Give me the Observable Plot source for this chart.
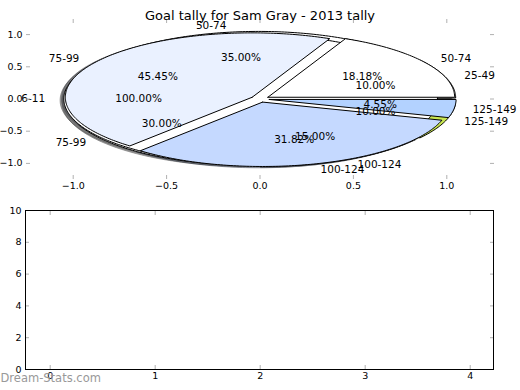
<!DOCTYPE html>
<html>
<head>
<meta charset="utf-8">
<script src="https://cdn.jsdelivr.net/npm/d3@7"></script>
<script src="https://cdn.jsdelivr.net/npm/@observablehq/plot@0.6"></script>
<style>
  html, body { margin: 0; padding: 0; background: white; }
  #chart svg { display: block; }
</style>
</head>
<body>
<div id="chart"></div>
<script>
// ---- data ----
const title = "Goal tally for Sam Gray - 2013 tally";
const watermark = "Dream-Stats.com";

const categoriesB = ["25-49", "50-74", "75-99", "100-124", "125-149"];
const valuesB = [2, 7, 6, 3, 2];
const colorsB = ["#ffffff", "#ffffff", "#ffffff", "#ffffff", "#c8e650"];

const categoriesC = ["6-11"];
const valuesC = [1];
const colorsC = ["#ffffff"];

const categoriesA = ["50-74", "75-99", "100-124", "125-149"];
const valuesA = [4, 10, 7, 1];
const colorsA = ["#ffffff", "#eaf1ff", "#c5d9ff", "#b3d2ff"];

const pieTicks = [-1.0, -0.5, 0.0, 0.5, 1.0];
const barXTicks = [0, 1, 2, 3, 4];
const barYTicks = [0, 2, 4, 6, 8, 10];

// ---- pie geometry (matplotlib-style: start at 0°, counter-clockwise) ----
const explode = 0.05, labelDist = 1.1, pctDist = 0.6, shadowOff = -0.02;

function buildPie(cats, vals, colors, pid) {
  const total = d3.sum(vals);
  const wedges = [], shadows = [], labels = [], pcts = [];
  let cum = 0;
  vals.forEach((v, i) => {
    const t1 = 360 * cum / total; cum += v; const t2 = 360 * cum / total;
    const tm = (t1 + t2) / 2 * Math.PI / 180;
    const cx = explode * Math.cos(tm), cy = explode * Math.sin(tm);
    const full = (t2 - t1) >= 359.999;
    const pts = [];
    if (!full) pts.push([cx, cy]);
    const n = Math.max(2, Math.ceil(t2 - t1));
    for (let k = 0; k <= n; k++) {
      const a = (t1 + (t2 - t1) * k / n) * Math.PI / 180;
      pts.push([cx + Math.cos(a), cy + Math.sin(a)]);
    }
    if (!full) pts.push([cx, cy]);
    const id = pid + "-" + i;
    const c = d3.rgb(colors[i]);
    const dark = d3.rgb(c.r * 0.3, c.g * 0.3, c.b * 0.3).formatHex();
    pts.forEach(([x, y]) => {
      wedges.push({id, x, y, color: colors[i]});
      shadows.push({id, x: x + shadowOff, y: y + shadowOff, color: dark});
    });
    labels.push({x: cx + labelDist * Math.cos(tm), y: cy + labelDist * Math.sin(tm), text: cats[i]});
    pcts.push({x: cx + pctDist * Math.cos(tm), y: cy + pctDist * Math.sin(tm),
               text: (100 * v / total).toFixed(2) + "%"});
  });
  return {wedges, shadows, labels, pcts};
}

// drawing order: B, then C, then A on top
const pies = [
  buildPie(categoriesB, valuesB, colorsB, "B"),
  buildPie(categoriesC, valuesC, colorsC, "C"),
  buildPie(categoriesA, valuesA, colorsA, "A")
];
const allShadows = pies.flatMap(p => p.shadows);
const allWedges = pies.flatMap(p => p.wedges);
const allLabels = pies.flatMap(p => p.labels);
const allPcts = pies.flatMap(p => p.pcts);

const tickGray = "#b0b0b0";
const fmt1 = d3.format(".1f");
const fmt0 = d3.format("d");
const font = "DejaVu Sans, sans-serif";

const topPlot = Plot.plot({
  width: 520, height: 195,
  marginTop: 18, marginBottom: 16, marginLeft: 26, marginRight: 27,
  x: {domain: [-1.25, 1.25], label: null},
  y: {domain: [-1.25, 1.25], label: null},
  color: {type: "identity"},
  style: {fontFamily: font, fontSize: "9.5px", background: "white", color: "black"},
  marks: [
    Plot.line(allShadows, {x: "x", y: "y", z: "id", fill: "color", fillOpacity: 0.5,
      stroke: "color", strokeOpacity: 0.5, strokeWidth: 1, curve: "linear"}),
    Plot.line(allWedges, {x: "x", y: "y", z: "id", fill: "color",
      stroke: "black", strokeWidth: 1, strokeLinejoin: "round", curve: "linear"}),
    Plot.text(allLabels.filter(d => d.x > 0), {x: "x", y: "y", text: "text",
      textAnchor: "start", fontSize: 10.5, fill: "black"}),
    Plot.text(allLabels.filter(d => d.x <= 0), {x: "x", y: "y", text: "text",
      textAnchor: "end", fontSize: 10.5, fill: "black"}),
    Plot.text(allPcts, {x: "x", y: "y", text: "text", textAnchor: "middle",
      fontSize: 10.5, fill: "black"}),
    // tick labels
    Plot.axisX(pieTicks, {anchor: "bottom", tickSize: 0, tickPadding: 3, tickFormat: fmt1, label: null}),
    Plot.axisY(pieTicks, {anchor: "left", tickSize: 0, tickPadding: 4, tickFormat: fmt1, label: null}),
    // inward tick marks
    Plot.axisX(pieTicks, {anchor: "bottom", tickSize: 4, dy: -4, tickFormat: () => "", stroke: tickGray, label: null}),
    Plot.axisX(pieTicks, {anchor: "top", tickSize: 4, dy: 4, tickFormat: () => "", stroke: tickGray, label: null}),
    Plot.axisY(pieTicks, {anchor: "left", tickSize: 4, dx: 4, tickFormat: () => "", stroke: tickGray, label: null}),
    Plot.axisY(pieTicks, {anchor: "right", tickSize: 4, dx: -4, tickFormat: () => "", stroke: tickGray, label: null}),
    Plot.text([title], {frameAnchor: "top", dy: -8, text: d => d, fontSize: 13, fill: "black"})
  ]
});

const bottomPlot = Plot.plot({
  width: 520, height: 195,
  marginTop: 15, marginBottom: 21, marginLeft: 25, marginRight: 27,
  x: {domain: [-0.235, 4.222], label: null},
  y: {domain: [0, 10], label: null},
  style: {fontFamily: font, fontSize: "9.5px", background: "white", color: "black"},
  marks: [
    Plot.axisX(barXTicks, {anchor: "bottom", tickSize: 0, tickPadding: 3, tickFormat: fmt0, label: null}),
    Plot.axisY(barYTicks, {anchor: "left", tickSize: 0, tickPadding: 4, tickFormat: fmt0, label: null}),
    Plot.axisX(barXTicks, {anchor: "bottom", tickSize: 4, dy: -4, tickFormat: () => "", stroke: tickGray, label: null}),
    Plot.axisX(barXTicks, {anchor: "top", tickSize: 4, dy: 4, tickFormat: () => "", stroke: tickGray, label: null}),
    Plot.axisY(barYTicks, {anchor: "left", tickSize: 4, dx: 4, tickFormat: () => "", stroke: tickGray, label: null}),
    Plot.axisY(barYTicks, {anchor: "right", tickSize: 4, dx: -4, tickFormat: () => "", stroke: tickGray, label: null}),
    Plot.frame({stroke: "black", strokeWidth: 1}),
    Plot.text([watermark], {frameAnchor: "bottom-left", textAnchor: "start", dx: -25, dy: 12,
      text: d => d, fontSize: 11.5, fill: "#999999"})
  ]
});

const chart = document.getElementById("chart");
chart.appendChild(topPlot);
chart.appendChild(bottomPlot);
</script>
</body>
</html>
